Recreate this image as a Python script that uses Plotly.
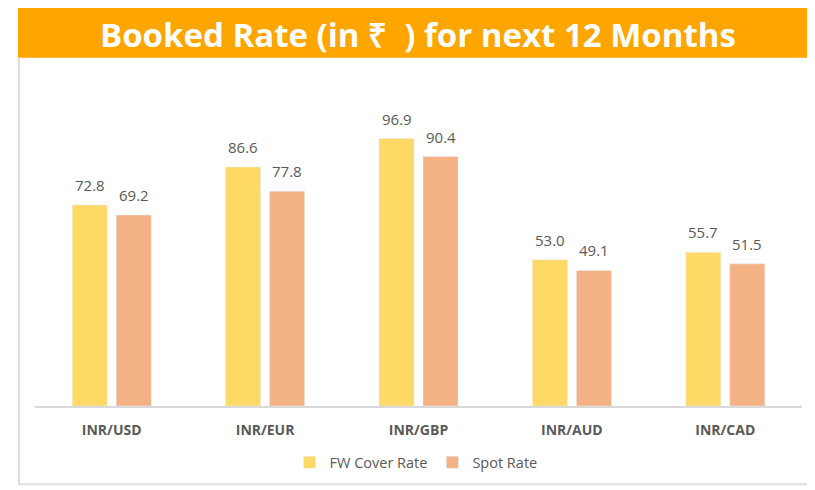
import plotly.graph_objects as go

categories = ["INR/USD", "INR/EUR", "INR/GBP", "INR/AUD", "INR/CAD"]
fw_cover = [72.8, 86.6, 96.9, 53.0, 55.7]
spot = [69.2, 77.8, 90.4, 49.1, 51.5]

OFF = 8  # default page body margin (figure is placed at page (8, 8))
W, H = 815 - OFF, 490 - OFF
# plot area in page coordinates
PX0, PX1, PY0, PY1 = 35, 802, 130, 409
L, R, T, B = PX0 - OFF, W - (PX1 - OFF), PY0 - OFF, H - (PY1 - OFF)
ph = PY1 - PY0
pw = PX1 - PX0

def px(x):
    return (x - PX0) / pw

def py(y):
    return (PY1 - y) / ph

gray = "#595959"
fig = go.Figure()
fig.add_trace(go.Bar(x=categories, y=fw_cover, name="FW Cover Rate", marker_color="#FFD966"))
fig.add_trace(go.Bar(x=categories, y=spot, name="Spot Rate", marker_color="#F4B183"))

annotations = []
for series, shift in ((fw_cover, -22), (spot, 22)):
    for c, v in zip(categories, series):
        annotations.append(dict(x=c, y=v, xref="x", yref="y", text=f"{v:.1f}", showarrow=False,
                                xshift=shift, yshift=20, yanchor="middle",
                                font=dict(size=15, color=gray, family="Open Sans, sans-serif")))

annotations.append(dict(text="Booked Rate (in ₹  ) for next 12 Months", xref="paper", yref="paper",
                        x=px(418), y=py(33), xanchor="center", yanchor="middle", showarrow=False,
                        font=dict(size=33, color="white", family="Open Sans, sans-serif", weight="bold")))

fig.update_layout(
    width=W, height=H,
    margin=dict(l=L, r=R, t=T, b=B),
    paper_bgcolor="white", plot_bgcolor="white",
    barmode="group", bargap=0.426, bargroupgap=0.2045,
    font=dict(family="Open Sans, sans-serif", color=gray),
    showlegend=True,
    legend=dict(orientation="h", x=px(416), xanchor="center", y=py(466), yanchor="middle",
                font=dict(size=14.5, color=gray), itemwidth=30, traceorder="normal"),
    xaxis=dict(showline=True, linecolor="#D9D9D9", linewidth=1.5, ticks="", ticklabelstandoff=10,
               tickfont=dict(size=14, color=gray, family="Open Sans, sans-serif", weight="bold")),
    yaxis=dict(range=[0, 100], visible=False, showgrid=False),
    shapes=[
        dict(type="rect", xref="paper", yref="paper", x0=px(18), x1=px(816), y0=py(57), y1=py(3),
             fillcolor="#FFA500", line=dict(width=0), layer="below"),
        dict(type="line", xref="paper", yref="paper", x0=px(19), x1=px(19), y0=py(57), y1=py(488),
             line=dict(color="#DDDDDD", width=2)),
        dict(type="line", xref="paper", yref="paper", x0=px(18), x1=px(816), y0=py(488), y1=py(488),
             line=dict(color="#DDDDDD", width=2)),
    ],
    annotations=annotations,
)

fig.write_html("out.html")
